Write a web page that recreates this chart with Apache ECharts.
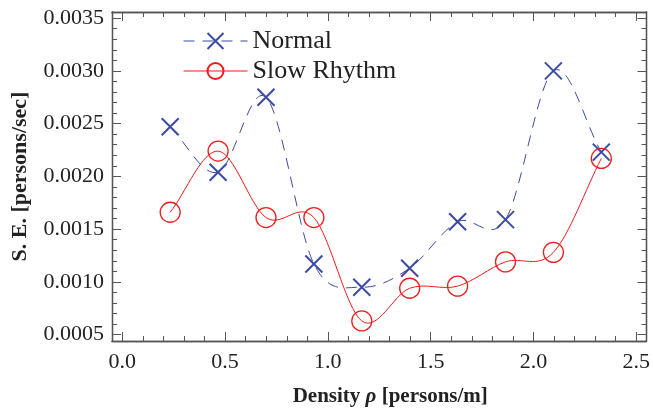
<!DOCTYPE html>
<html>
<head>
<meta charset="utf-8">
<script src="https://cdn.jsdelivr.net/npm/echarts@6/dist/echarts.min.js"></script>
<style>html,body{margin:0;padding:0;background:#fff}#c{width:653px;height:412px}</style>
</head>
<body>
<div id="c"></div>
<script>
const density = [0.233, 0.466, 0.699, 0.932, 1.165, 1.398, 1.631, 1.864, 2.097, 2.330];
const normal = [0.00247, 0.00204, 0.00275, 0.00117, 0.00095, 0.00113, 0.00157, 0.00159, 0.00300, 0.00223];
const slowRhythm = [0.00166, 0.00224, 0.00161, 0.00161, 0.00063, 0.00094, 0.00096, 0.00119, 0.00128, 0.00217];
const xMajor = [0, 0.5, 1.0, 1.5, 2.0, 2.5];
const xMinor = [0,0.1,0.2,0.3,0.4,0.5,0.6,0.7,0.8,0.9,1.0,1.1,1.2,1.3,1.4,1.5,1.6,1.7,1.8,1.9,2.0,2.1,2.2,2.3,2.4,2.5];
const yMajor = [0.0005, 0.0010, 0.0015, 0.0020, 0.0025, 0.0030, 0.0035];
const yMinor = [];
for (let i = 5; i <= 35; i++) yMinor.push(i / 10000);

const BLUE = '#3b4ba3';
const RED = '#ee1c1c';
const FONT = 'Liberation Serif';
const X_MIN = -0.05, X_MAX = 2.55, Y_MIN = 0.00044, Y_MAX = 0.003558;

function xAx(pos, ticks, len, labels, extra) {
  return Object.assign({
    type: 'value', position: pos, min: X_MIN, max: X_MAX,
    axisLine: { show: true, onZero: false, lineStyle: { color: '#555', width: 1.3 } },
    axisTick: { show: true, inside: true, length: len, customValues: ticks, lineStyle: { color: '#555', width: 1 } },
    axisLabel: labels ? { show: true, customValues: ticks, formatter: v => v.toFixed(1), fontFamily: FONT, fontSize: 22, color: '#222', margin: 10 } : { show: false },
    splitLine: { show: false }
  }, extra || {});
}
function yAx(pos, ticks, len, labels, extra) {
  return Object.assign({
    type: 'value', position: pos, min: Y_MIN, max: Y_MAX,
    axisLine: { show: true, onZero: false, lineStyle: { color: '#555', width: 1.3 } },
    axisTick: { show: true, inside: true, length: len, customValues: ticks, lineStyle: { color: '#555', width: 1 } },
    axisLabel: labels ? { show: true, customValues: ticks, formatter: v => v.toFixed(4), fontFamily: FONT, fontSize: 22, color: '#222', margin: 8 } : { show: false },
    splitLine: { show: false }
  }, extra || {});
}

// Smooth curve (Catmull-Rom tangents) through the data points, drawn as Bezier segments in pixel space
function curveRender(xs, ys, color, dash) {
  return function (params, api) {
    if (params.dataIndex !== 0) return null;
    const pts = xs.map((x, i) => api.coord([x, ys[i]]));
    const n = pts.length;
    const tan = pts.map((p, i) => {
      const a = pts[Math.max(i - 1, 0)], b = pts[Math.min(i + 1, n - 1)];
      const f = (i === 0 || i === n - 1) ? 1 : 0.5;
      return [(b[0] - a[0]) * f, (b[1] - a[1]) * f];
    });
    const cmds = ['M' + pts[0][0] + ',' + pts[0][1]];
    for (let i = 0; i < n - 1; i++) {
      const c1 = [pts[i][0] + tan[i][0] / 3, pts[i][1] + tan[i][1] / 3];
      const c2 = [pts[i + 1][0] - tan[i + 1][0] / 3, pts[i + 1][1] - tan[i + 1][1] / 3];
      cmds.push('C' + c1[0] + ',' + c1[1] + ' ' + c2[0] + ',' + c2[1] + ' ' + pts[i + 1][0] + ',' + pts[i + 1][1]);
    }
    return {
      type: 'path',
      shape: { pathData: cmds.join(' ') },
      style: { fill: 'none', stroke: color, lineWidth: 1, lineDash: dash || null }
    };
  };
}

const chart = echarts.init(document.getElementById('c'), null, { renderer: 'canvas' });
chart.setOption({
  animation: false,
  backgroundColor: '#fff',
  grid: { left: 112, top: 12, right: 4, bottom: 69, containLabel: false },
  legend: {
    orient: 'vertical', left: 183, top: 28, itemWidth: 64, itemHeight: 20, itemGap: 4, padding: 0,
    textStyle: { fontFamily: FONT, fontSize: 26, color: '#222' },
    data: [
      { name: 'Normal', lineStyle: { opacity: 1, color: BLUE, width: 1, type: [11, 8] } },
      { name: 'Slow Rhythm', lineStyle: { opacity: 1, color: RED, width: 1 } }
    ]
  },
  xAxis: [
    xAx('bottom', xMajor, 9, true, {
      name: '{b|Density }{i|ρ}{b| [persons/m]}', nameLocation: 'middle', nameGap: 45,
      nameTextStyle: { padding: [0, 0, 0, 22], rich: {
        b: { fontFamily: FONT, fontSize: 21, fontWeight: 'bold', color: '#222' },
        i: { fontFamily: FONT, fontSize: 21, fontWeight: 'bold', fontStyle: 'italic', color: '#222' }
      } }
    }),
    xAx('bottom', xMinor, 5, false),
    xAx('top', xMajor, 9, false),
    xAx('top', xMinor, 5, false)
  ],
  yAxis: [
    yAx('left', yMajor, 9, true, {
      name: 'S. E. [persons/sec]', nameLocation: 'middle', nameGap: 81,
      nameTextStyle: { fontFamily: FONT, fontSize: 22, fontWeight: 'bold', color: '#222' }
    }),
    yAx('left', yMinor, 5, false),
    yAx('right', yMajor, 9, false),
    yAx('right', yMinor, 5, false)
  ],
  series: [
    {
      name: 'Normal curve', type: 'custom', xAxisIndex: 0, yAxisIndex: 0,
      data: density.map((x, i) => [x, normal[i]]),
      renderItem: curveRender(density, normal, BLUE, [11, 8]), z: 3, silent: true
    },
    {
      name: 'Slow Rhythm curve', type: 'custom', xAxisIndex: 0, yAxisIndex: 0,
      data: density.map((x, i) => [x, slowRhythm[i]]),
      renderItem: curveRender(density, slowRhythm, RED, null), z: 2, silent: true
    },
    {
      name: 'Normal', type: 'line', xAxisIndex: 0, yAxisIndex: 0,
      data: density.map((x, i) => [x, normal[i]]),
      symbol: 'path://M0,0L10,10M10,0L0,10', symbolSize: 17, showAllSymbol: true,
      itemStyle: { color: BLUE, borderColor: BLUE, borderWidth: 2 },
      lineStyle: { color: BLUE, width: 1, opacity: 0, type: [11, 8] },
      z: 4
    },
    {
      name: 'Slow Rhythm', type: 'line', xAxisIndex: 0, yAxisIndex: 0,
      data: density.map((x, i) => [x, slowRhythm[i]]),
      symbol: 'circle', symbolSize: 20, showAllSymbol: true,
      itemStyle: { color: 'rgba(255,255,255,0)', borderColor: RED, borderWidth: 1.3 },
      lineStyle: { color: RED, width: 1, opacity: 0 },
      z: 4
    }
  ]
});
</script>
</body>
</html>
